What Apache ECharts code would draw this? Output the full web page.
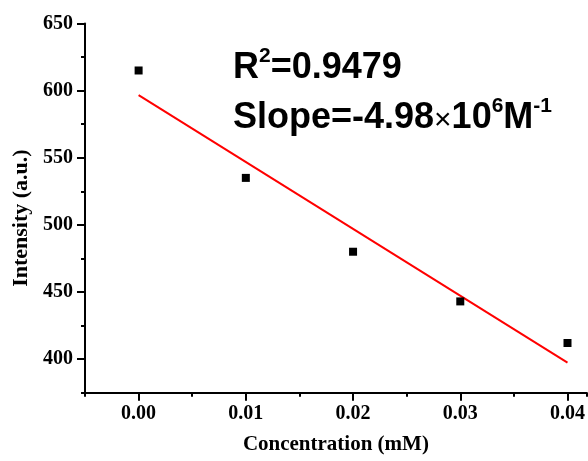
<!DOCTYPE html>
<html><head><meta charset="utf-8">
<script src="https://cdn.jsdelivr.net/npm/echarts@6/dist/echarts.min.js"></script>
<style>html,body{margin:0;padding:0;background:#fff}#c{width:588px;height:461px}</style>
</head><body><div id="c"></div>
<script>
const concentrations = [0.00, 0.01, 0.02, 0.03, 0.04];
const intensities = [615, 535, 480, 443, 412];
const fitX = [0.00, 0.04];
const fitY = [596.6, 397.4];
const xTicks = [0.00, 0.01, 0.02, 0.03, 0.04];
const yTicks = [400, 450, 500, 550, 600, 650];

const serif = 'Liberation Serif';
const sans = 'Liberation Sans';
const chart = echarts.init(document.getElementById('c'), null, {renderer: 'canvas'});
const lineStyle = {color: '#000', width: 2};
const xMin = -0.005, xMax = 0.0418;
chart.setOption({
  animation: false,
  backgroundColor: '#fff',
  grid: {left: 85, top: 23.5, right: 0, bottom: 68.3},
  xAxis: [{
    type: 'value', min: xMin, max: xMax, position: 'bottom',
    axisLine: {show: true, onZero: false, lineStyle: lineStyle},
    axisTick: {show: true, length: 8, lineStyle: lineStyle, customValues: xTicks},
    axisLabel: {customValues: xTicks, formatter: v => v.toFixed(2), margin: 11,
      fontFamily: serif, fontWeight: 'bold', fontSize: 20, color: '#000', hideOverlap: false},
    splitLine: {show: false},
    name: 'Concentration (mM)', nameLocation: 'middle', nameGap: 41,
    nameTextStyle: {fontFamily: serif, fontWeight: 'bold', fontSize: 21, color: '#000'}
  }, {
    type: 'value', min: xMin, max: xMax, interval: 0.005, position: 'bottom',
    axisLine: {show: false, onZero: false},
    axisTick: {show: true, length: 4, lineStyle: lineStyle},
    axisLabel: {show: false}, splitLine: {show: false}
  }],
  yAxis: [{
    type: 'value', min: 375, max: 650, position: 'left',
    axisLine: {show: true, onZero: false, lineStyle: lineStyle},
    axisTick: {show: true, length: 8, lineStyle: lineStyle, customValues: yTicks},
    axisLabel: {customValues: yTicks, margin: 12,
      fontFamily: serif, fontWeight: 'bold', fontSize: 20, color: '#000'},
    splitLine: {show: false},
    name: 'Intensity (a.u.)', nameLocation: 'middle', nameGap: 51,
    nameTextStyle: {fontFamily: serif, fontWeight: 'bold', fontSize: 22, color: '#000', padding: [0, 20, 0, 0]}
  }, {
    type: 'value', min: 375, max: 650, interval: 25, position: 'left',
    axisLine: {show: false, onZero: false},
    axisTick: {show: true, length: 4, lineStyle: lineStyle},
    axisLabel: {show: false}, splitLine: {show: false}
  }],
  series: [{
    type: 'line', xAxisIndex: 0, yAxisIndex: 0,
    data: fitX.map((x, i) => [x, fitY[i]]),
    showSymbol: false, lineStyle: {color: '#ff0000', width: 2}, z: 2
  }, {
    type: 'scatter', xAxisIndex: 0, yAxisIndex: 0,
    data: concentrations.map((x, i) => [x, intensities[i]]),
    symbol: 'rect', symbolSize: 8, itemStyle: {color: '#000', opacity: 1}, z: 3
  }],
  graphic: [{
    type: 'text', left: 233, top: 46,
    style: {
      text: '{b|R}{s|2}{b|=0.9479}',
      rich: {
        b: {fontFamily: sans, fontWeight: 'bold', fontSize: 36, color: '#000', lineHeight: 40, verticalAlign: 'bottom'},
        s: {fontFamily: sans, fontWeight: 'bold', fontSize: 21, color: '#000', lineHeight: 22, verticalAlign: 'top'}
      }
    }
  }, {
    type: 'text', left: 233, top: 96,
    style: {
      text: '{b|Slope=-4.98}{x|×}{b|10}{s|6}{b|M}{s|-1}',
      rich: {
        b: {fontFamily: sans, fontWeight: 'bold', fontSize: 36, color: '#000', lineHeight: 40, verticalAlign: 'bottom'},
        x: {fontFamily: sans, fontWeight: 'normal', fontSize: 30, color: '#000', lineHeight: 40, verticalAlign: 'bottom'},
        s: {fontFamily: sans, fontWeight: 'bold', fontSize: 21, color: '#000', lineHeight: 22, verticalAlign: 'top'}
      }
    }
  }]
});
</script></body></html>
